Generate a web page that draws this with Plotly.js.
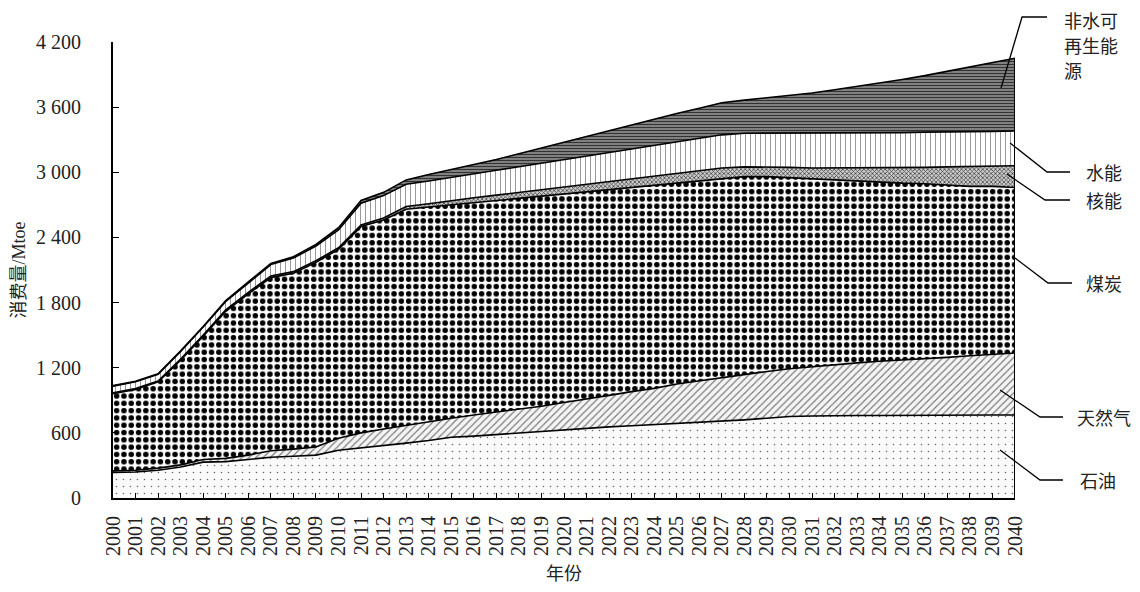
<!DOCTYPE html>
<html>
<head>
<meta charset="utf-8">
<script src="https://cdn.plot.ly/plotly-3.0.1.min.js"></script>
<style>html,body{margin:0;padding:0;background:#fff;}#chart{width:1140px;height:592px;}</style>
</head>
<body>
<div id="chart"></div>
<script>
const years = [2000,2001,2002,2003,2004,2005,2006,2007,2008,2009,2010,2011,2012,2013,2014,2015,2016,2017,2018,2019,2020,2021,2022,2023,2024,2025,2026,2027,2028,2029,2030,2031,2032,2033,2034,2035,2036,2037,2038,2039,2040];
const oil = [235,240,255,285,330,335,355,375,385,395,440,460,480,505,530,560,570,585,595,610,625,640,655,665,675,690,700,710,720,735,750,755,760,760,760,762,762,763,763,764,765];
const gas = [15,15,20,20,25,30,40,60,65,75,110,140,155,165,175,175,195,205,220,235,255,270,290,315,335,360,380,400,420,430,440,455,470,485,500,508,518,532,547,556,570];
const coal = [710,745,795,965,1135,1355,1485,1595,1620,1700,1740,1900,1925,1990,1975,1965,1955,1950,1945,1935,1920,1910,1895,1880,1870,1850,1840,1835,1820,1795,1760,1725,1695,1670,1645,1630,1615,1585,1560,1550,1525];
const nuclear = [10,8,8,10,10,12,13,15,15,15,15,15,20,25,30,40,45,50,55,60,65,70,75,80,85,90,95,95,90,90,95,105,115,125,135,140,150,170,185,190,200];
const hydro = [60,62,62,70,75,78,87,105,125,135,165,200,205,205,210,215,220,228,236,244,252,260,268,276,284,292,300,305,310,310,315,320,320,320,325,325,325,320,320,315,320];
const renew = [5,5,5,5,5,8,10,10,12,15,20,25,30,40,60,70,85,100,120,140,165,185,205,225,245,260,275,295,305,325,350,370,400,430,455,490,520,560,595,635,670];
const yTickVals = [0,600,1200,1800,2400,3000,3600,4200];
const yTickText = ['0','600','1 200','1 800','2 400','3 000','3 600','4 200'];
const seriesNames = ['石油','天然气','煤炭','核能','水能','非水可再生能源'];

const patterns = [
  {shape:'.', fgcolor:'#666', bgcolor:'#fafafa', size:7, solidity:0.04},
  {shape:'/', fgcolor:'#777', bgcolor:'#f4f4f4', size:5, solidity:0.22},
  {shape:'.', fgcolor:'#000', bgcolor:'#fff', size:7.3, solidity:0.45},
  {shape:'x', fgcolor:'#444', bgcolor:'#ccc', size:3, solidity:0.45},
  {shape:'|', fgcolor:'#999', bgcolor:'#fff', size:5, solidity:0.2},
  {shape:'-', fgcolor:'#333', bgcolor:'#999', size:3, solidity:0.5}
];
const values = [oil,gas,coal,nuclear,hydro,renew];
const traces = values.map((v,i)=>({
  x: years, y: v, name: seriesNames[i], type:'scatter', mode:'lines',
  stackgroup:'one', fill:'tonexty',
  line:{color:'#000', width:1.6},
  fillpattern: patterns[i],
  hoverinfo:'x+y+name', showlegend:false
}));
const last = years.length-1;
const totalLast = values.reduce((s,v)=>s+v[last],0);
traces.push({x:[years[last],years[last]], y:[0,totalLast], type:'scatter', mode:'lines',
  line:{color:'#000', width:2}, showlegend:false, hoverinfo:'skip'});

// plot area pixel geometry
const L=113, R=1015, T=42, B=498;
const px = x => (x-L)/(R-L);
const py = y => (B-y)/(B-T);
function path(pts){ return pts.map((p,i)=>(i?'L':'M')+px(p[0]).toFixed(4)+','+py(p[1]).toFixed(4)).join(' '); }
const leaders = [
  [[1047,17],[1022,17],[1001,88]],
  [[1010,143],[1047,172],[1070,172]],
  [[1007,174],[1045,200],[1070,200]],
  [[1015,258],[1048,283],[1072,283]],
  [[1000,390],[1040,417],[1063,417]],
  [[1000,450],[1040,480],[1063,480]]
];
const shapes = leaders.map(p=>({type:'path', xref:'paper', yref:'paper', path:path(p), line:{color:'#000', width:1.3}, layer:'above'}));
const labelPos = [[1062,20,'非水可'],[1062,45,'再生能'],[1062,70,'源'],[1084,172,'水能'],[1084,200,'核能'],[1084,283,'煤炭'],[1075,417,'天然气'],[1078,480,'石油']];
const cjk = 'Noto Sans CJK SC, sans-serif';
const annotations = labelPos.map(a=>({xref:'paper', yref:'paper', x:px(a[0]), y:py(a[1]), text:a[2], showarrow:false,
  xanchor:'left', yanchor:'middle', align:'left', font:{family:cjk, size:18, color:'#222'}}));

const layout = {
  width:1140, height:592,
  margin:{l:L, r:1140-R, t:T, b:592-B},
  paper_bgcolor:'#fff', plot_bgcolor:'#fff',
  font:{family:'Liberation Serif, serif', color:'#222'},
  xaxis:{range:[2000,2040], tickvals:years, ticktext:years.map(String), tickangle:-90,
    ticks:'inside', ticklen:5, tickcolor:'#000', showline:true, linecolor:'#000', linewidth:2,
    showgrid:false, zeroline:false, tickfont:{size:20, family:'Liberation Serif, serif', color:'#222'},
    ticklabelstandoff:8,
    title:{text:'年份', font:{family:cjk, size:18, color:'#222'}, standoff:12}},
  yaxis:{range:[0,4200], tickvals:yTickVals, ticktext:yTickText, ticks:'inside', ticklen:6, tickcolor:'#000',
    showline:true, linecolor:'#000', linewidth:2, showgrid:false, zeroline:false,
    tickfont:{size:20, family:'Liberation Serif, serif', color:'#222'}, ticklabelstandoff:26,
    title:{text:'消费量/Mtoe', font:{family:'Liberation Serif, Noto Sans CJK SC, serif', size:18, color:'#222'}, standoff:6}},
  shapes: shapes, annotations: annotations, showlegend:false
};
Plotly.newPlot('chart', traces, layout, {displayModeBar:false, staticPlot:true});
</script>
</body>
</html>
